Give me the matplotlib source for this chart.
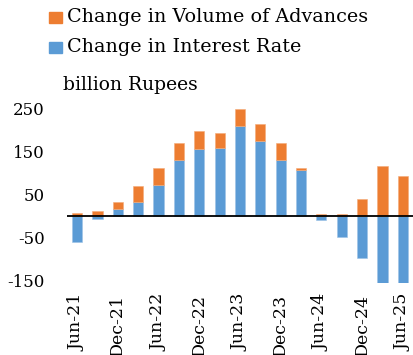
import matplotlib
matplotlib.use("Agg")
import matplotlib.pyplot as plt
from matplotlib.patches import Rectangle

plt.rcParams['font.family'] = ['DejaVu Serif']

quarters = ["Jun-21", "Sep-21", "Dec-21", "Mar-22", "Jun-22", "Sep-22", "Dec-22",
            "Mar-23", "Jun-23", "Sep-23", "Dec-23", "Mar-24", "Jun-24", "Sep-24",
            "Dec-24", "Mar-25", "Jun-25"]
interest_rate = [-60, -6, 16, 32, 72, 131, 155, 158, 209, 174, 131, 108, -8, -48, -98, -155, -155]
volume = [8, 12, 16, 37, 40, 39, 42, 34, 39, 40, 38, 4, 5, 5, 39, 116, 92]
yticks = [250, 150, 50, -50, -150]
legend_labels = ["Change in Volume of Advances", "Change in Interest Rate"]

orange = "#ED7D31"
blue = "#5B9BD5"

W, H = 413, 355
fig = plt.figure(figsize=(W / 100, H / 100), dpi=100)
ax = fig.add_axes([0.162, 0.203, 0.838, 0.504])

x = list(range(len(quarters)))
# Stack positive parts upward and negative parts downward from zero
pos_base = [max(v, 0) for v in interest_rate]
neg_base = [min(v, 0) for v in interest_rate]
vol_bottom = [pos_base[i] if volume[i] >= 0 else neg_base[i] for i in x]

ax.bar(x, interest_rate, width=0.5, color=blue, edgecolor="#9cc3e6", linewidth=0.4)
ax.bar(x, volume, width=0.5, bottom=vol_bottom, color=orange, edgecolor="#f4aa78", linewidth=0.4)

ax.axhline(0, color="black", linewidth=1.3)

ax.set_xlim(-0.5, len(quarters) - 0.5)
ax.set_ylim(-155, 260)
ax.set_yticks(yticks)
ax.set_yticklabels([str(v) for v in yticks], fontsize=12)
ax.set_xticks(x[::2])
ax.set_xticklabels(quarters[::2], rotation=90, fontsize=12.5)
ax.tick_params(axis="both", length=0)
ax.tick_params(axis="y", pad=16)
ax.tick_params(axis="x", pad=8)
for s in ax.spines.values():
    s.set_visible(False)

# Legend drawn as square swatches with labels, top-left of the figure
for (label, color, yc) in zip(legend_labels, [orange, blue], [17.5, 47.5]):
    fig.patches.append(Rectangle((49 / W, 1 - (yc + 5.5) / H), 13 / W, 11 / H,
                                 transform=fig.transFigure, color=color))
    fig.text(67 / W, 1 - yc / H, label, fontsize=13.8, va="center", ha="left")

fig.text(63 / W, 1 - 85 / H, "billion Rupees", fontsize=13.5, va="center", ha="left")

fig.savefig("out.png", dpi=100)
